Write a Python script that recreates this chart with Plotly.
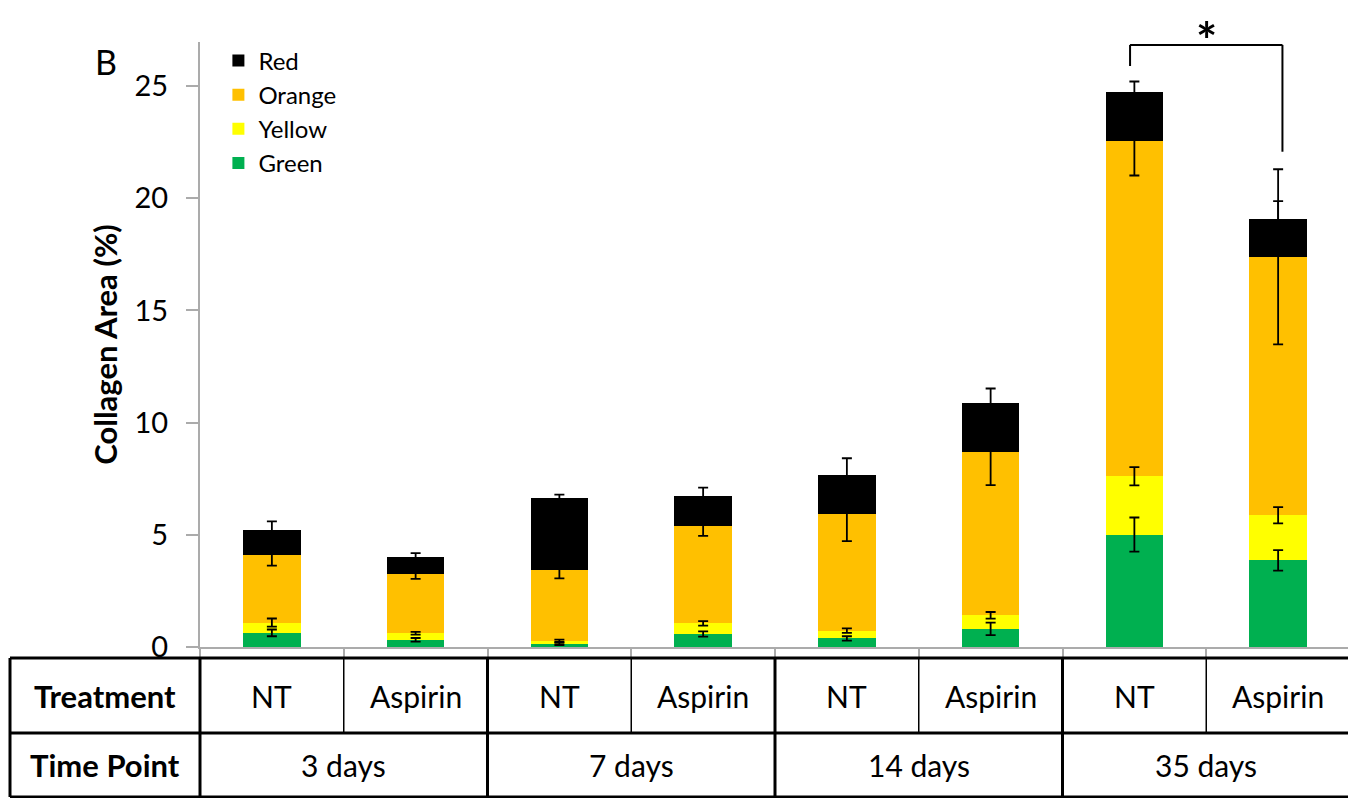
import numpy as np
import plotly.graph_objects as go

# ---- data ----
treatments = ["NT", "Aspirin", "NT", "Aspirin", "NT", "Aspirin", "NT", "Aspirin"]
time_points = ["3 days", "7 days", "14 days", "35 days"]
categories = [f"{tr} {time_points[i // 2]}" for i, tr in enumerate(treatments)]

green = [0.63, 0.32, 0.14, 0.58, 0.38, 0.81, 5.01, 3.86]
yellow = [0.46, 0.29, 0.14, 0.47, 0.35, 0.60, 2.60, 2.01]
orange = [2.99, 2.64, 3.15, 4.35, 5.21, 7.28, 14.95, 11.52]
red = [1.14, 0.76, 3.20, 1.33, 1.73, 2.20, 2.17, 1.68]

green_err = [0.15, 0.08, 0.05, 0.12, 0.10, 0.28, 0.76, 0.46]
yellow_err = [0.18, 0.06, 0.05, 0.10, 0.10, 0.15, 0.41, 0.36]
orange_err = [0.45, 0.21, 0.37, 0.45, 1.22, 1.48, 1.55, 3.90]
red_err = [0.38, 0.17, 0.16, 0.37, 0.74, 0.63, 0.47, 0.80]

series_names = ["Green", "Yellow", "Orange", "Red"]
series_vals = [green, yellow, orange, red]
series_errs = [green_err, yellow_err, orange_err, red_err]
series_colors = ["#00B050", "#FFFF00", "#FFC000", "#000000"]

FONT = "Lato"
GRAY = "#ABABAB"

fig = go.Figure()
for name, vals, col in zip(series_names, series_vals, series_colors):
    fig.add_trace(go.Bar(x=categories, y=vals, name=name, marker=dict(color=col, line=dict(width=0)),
                         hoverinfo="skip"))

# error bars drawn on top at cumulative heights
cum = np.cumsum(np.array(series_vals), axis=0)
for k, errs in enumerate(series_errs):
    fig.add_trace(go.Scatter(x=categories, y=cum[k], mode="markers",
                             marker=dict(size=1, color="rgba(0,0,0,0)"),
                             error_y=dict(type="data", array=errs, visible=True, color="black",
                                          thickness=1.8, width=5),
                             showlegend=False, hoverinfo="skip"))

n = len(categories)
plot_w, plot_h = 1150, 605
top_margin = 34
shapes = []
ann = []

# significance bracket between 35-day bars
i_nt, i_asp = n - 2, n - 1
br_y = 26.83
shapes.append(dict(type="line", xref="x", yref="y", x0=i_nt - 0.03, x1=i_asp + 0.03, y0=br_y, y1=br_y,
                   line=dict(color="black", width=2)))
shapes.append(dict(type="line", xref="x", yref="y", x0=i_nt - 0.03, x1=i_nt - 0.03, y0=br_y, y1=25.89,
                   line=dict(color="black", width=2)))
shapes.append(dict(type="line", xref="x", yref="y", x0=i_asp + 0.03, x1=i_asp + 0.03, y0=br_y, y1=22.07,
                   line=dict(color="black", width=2)))
ann.append(dict(text="<b>*</b>", xref="x", yref="paper", x=(i_nt + i_asp) / 2, y=1 + top_margin / plot_h,
                xanchor="center", yanchor="top", showarrow=False,
                font=dict(family=FONT, size=50, color="black")))

# ---- table below the axis (paper coordinates) ----
y_top, y_mid, y_bot = -11 / plot_h, -86 / plot_h, -150 / plot_h
x_left, x_right = -190 / plot_w, 1.0 + 1 / plot_w
thick = dict(color="black", width=3)
thin = dict(color="black", width=1.5)
for yy in (y_top, y_mid, y_bot):
    shapes.append(dict(type="line", xref="paper", yref="paper", x0=x_left, x1=x_right, y0=yy, y1=yy, line=thick))
shapes.append(dict(type="line", xref="paper", yref="paper", x0=x_left, x1=x_left, y0=y_top, y1=y_bot, line=thick))
for k in range(0, n + 1):
    xx = k / n
    if k % 2 == 0:
        shapes.append(dict(type="line", xref="paper", yref="paper", x0=xx, x1=xx, y0=y_top, y1=y_bot, line=thick))
    else:
        shapes.append(dict(type="line", xref="paper", yref="paper", x0=xx, x1=xx, y0=y_top, y1=y_mid, line=thin))

row1_y = (y_top + y_mid) / 2
row2_y = (y_mid + y_bot) / 2
cell_font = dict(family=FONT, size=30, color="black")
head_font = dict(family=FONT, size=31, color="black")
ann.append(dict(text="<b>Treatment</b>", xref="paper", yref="paper", x=(x_left + 0) / 2, y=row1_y,
                xanchor="center", yanchor="middle", showarrow=False, font=head_font))
ann.append(dict(text="<b>Time Point</b>", xref="paper", yref="paper", x=(x_left + 0) / 2, y=row2_y,
                xanchor="center", yanchor="middle", showarrow=False, font=head_font))
for i, tr in enumerate(treatments):
    ann.append(dict(text=tr, xref="paper", yref="paper", x=(i + 0.5) / n, y=row1_y,
                    xanchor="center", yanchor="middle", showarrow=False, font=cell_font))
for g, tp in enumerate(time_points):
    ann.append(dict(text=tp, xref="paper", yref="paper", x=(2 * g + 1) / n, y=row2_y,
                    xanchor="center", yanchor="middle", showarrow=False, font=cell_font))

# panel letter
ann.append(dict(text="B", xref="paper", yref="paper", x=-94 / plot_w, y=1 - 19 / plot_h,
                xanchor="center", yanchor="middle", showarrow=False,
                font=dict(family=FONT, size=34, color="black")))

fig.update_layout(
    barmode="stack",
    bargap=0.6,
    width=1348, height=790,
    margin=dict(l=192, r=6, t=top_margin, b=151, autoexpand=False),
    plot_bgcolor="white", paper_bgcolor="white",
    font=dict(family=FONT, color="black"),
    shapes=shapes, annotations=ann,
    legend=dict(x=0.016, y=1.006, xanchor="left", yanchor="top", traceorder="reversed",
                font=dict(family=FONT, size=24, color="black"), bgcolor="rgba(0,0,0,0)",
                tracegroupgap=0, itemclick=False),
    xaxis=dict(type="category", showticklabels=False, ticks="outside", tickson="boundaries",
               ticklen=8, tickcolor=GRAY, tickwidth=1.5, showline=True, linecolor=GRAY, linewidth=2,
               showgrid=False, zeroline=False),
    yaxis=dict(range=[0, 26.96], dtick=5, ticks="outside", ticklen=12, tickcolor=GRAY, tickwidth=1.5,
               showline=True, linecolor=GRAY, linewidth=2, showgrid=False, zeroline=False,
               tickfont=dict(family=FONT, size=29, color="black"), ticklabelstandoff=12,
               title=dict(text="<b>Collagen Area (%)</b>", font=dict(family=FONT, size=31, color="black"),
                          standoff=8)),
)

fig.write_html("out.html")
